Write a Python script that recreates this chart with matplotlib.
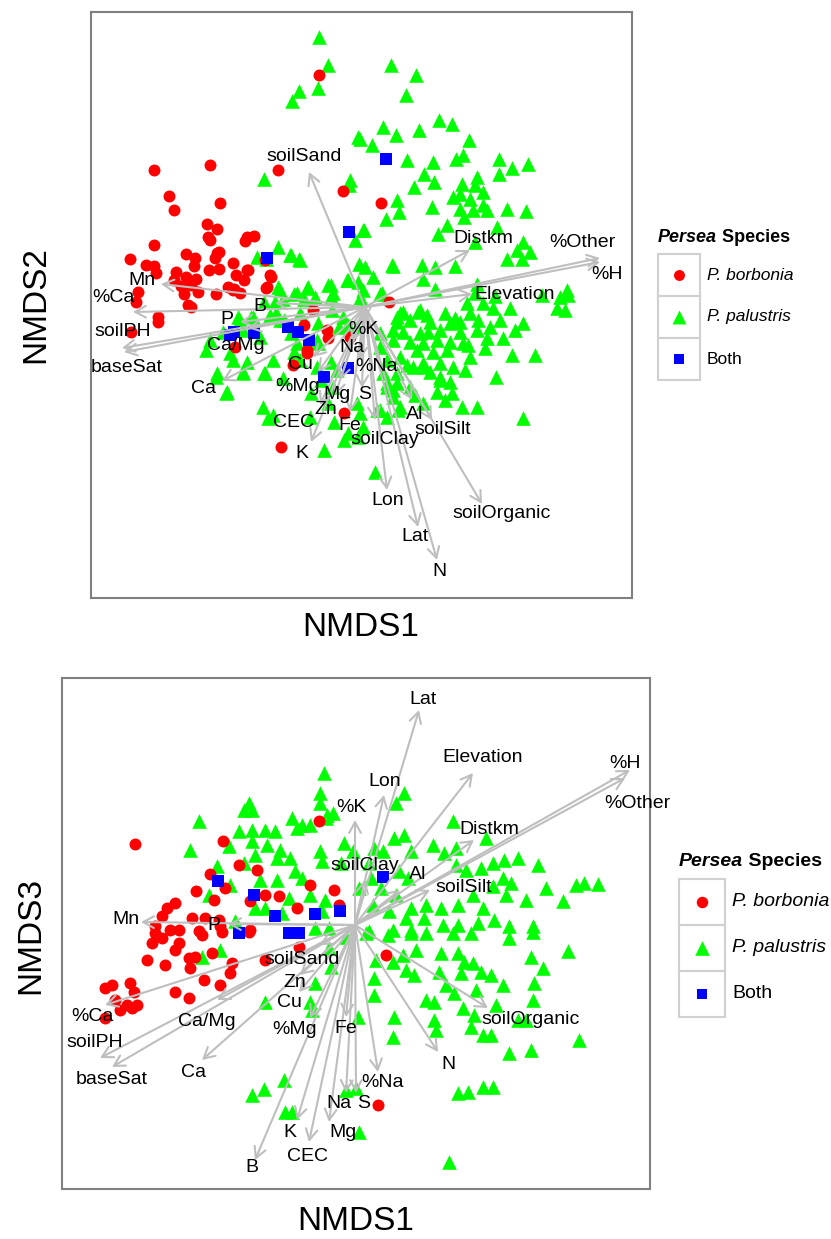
import numpy as np
import matplotlib.pyplot as plt
from matplotlib.patches import Rectangle, FancyArrowPatch

plt.rcParams['font.family'] = ['Liberation Sans', 'DejaVu Sans']

# ---- data (ordination scores, in plot units) ----
# panel 1: NMDS1 vs NMDS2
top_borbonia = [(319,75),(154,170),(210,165),(278,170),(343,191),(381,203),(169,196),(220,203),(174,210),
    (207,224),(217,229),(208,237),(154,245),(245,241),(254,236),(130,259),(186,254),(195,258),(219,252),
    (215,258),(146,265),(154,266),(156,273),(194,266),(219,269),(209,270),(248,270),(236,275),(244,280),
    (271,277),(176,272),(186,277),(196,279),(174,280),(181,286),(191,285),(228,287),(234,289),(266,288),
    (138,292),(184,294),(198,292),(216,294),(265,260),(188,305),(136,302),(158,317),(158,322),(131,332),
    (281,447),(235,347),(304,325),(327,330),(328,338),(307,353),(293,365),(344,413),(191,307),(247,237),
    (210,240),(217,253),(233,263),(247,270),(270,275),(267,287),(240,293),(233,290),(313,310),(350,337),
    (389,302),(307,350)]
top_palustris = [(319,37),(328,65),(299,91),(318,88),(292,101),(358,137),(264,179),(350,180),(349,185),
    (363,230),(355,240),(278,247),(257,257),(266,259),(291,255),(299,259),(359,264),(348,280),(331,285),
    (278,287),(308,287),(294,294),(331,297),(283,299),(304,299),(361,299),
    (391,65),(416,75),(406,95),(439,120),(452,124),(383,127),(419,130),(396,135),(469,140),(372,145),
    (360,139),(407,160),(433,162),(456,159),(463,155),(499,159),(512,168),(528,164),(424,174),(499,174),
    (434,182),(477,177),(462,184),(475,185),(414,187),(483,192),(453,197),(460,194),(470,199),(397,200),
    (432,207),(483,205),(487,210),(507,209),(526,211),(460,209),(473,210),(399,212),(464,217),(386,219),
    (447,225),(497,227),(364,230),(438,234),(475,242),(523,242),(517,250),(530,252),(507,259),(522,259),
    (393,266),(422,265),(435,267),(455,266),(365,267),(423,279),(477,284),(435,289),(567,290),(542,295),
    (560,297),(363,290),(380,294),
    (568,295),(557,308),(565,310),(403,312),(420,310),(467,303),(483,303),(493,308),(510,308),(397,322),
    (410,320),(430,322),(450,323),(460,322),(478,320),(500,320),(523,323),(403,332),(420,333),(440,330),
    (460,332),(477,330),(487,338),(503,338),(393,340),(410,342),(423,343),(437,340),(450,342),(463,343),
    (417,350),(433,352),(447,350),(470,357),(512,355),(535,355),(400,357),(423,363),(440,363),(453,367),
    (413,367),(496,377),(440,377),(450,382),(397,383),(410,387),(437,392),(452,393),(423,403),(462,407),
    (477,407),(523,418),(400,407),
    (400,313),(418,312),(375,472),(440,380),(407,365),(425,367),(387,383),(393,390),(380,410),(360,413),
    (398,410),(427,315),(445,313),(470,313),(490,327),(515,330),(428,332),(468,345),(485,348),(430,372),
    (465,370),(415,395),(445,400),(455,318),(475,293),(495,296),
    (264,302),(276,313),(251,317),(238,317),(223,332),(206,350),(233,360),(243,372),(264,373),(216,377),
    (226,393),(263,407),(268,418),(324,450),(291,333),(294,352),(318,343),(339,327),(348,325),(331,362),
    (321,380),(311,393),(328,403),(334,422),(348,433),(344,440),(358,437),(284,320),
    (290,255),(300,260),(392,265),(347,280),(328,285),(333,293),(307,288),(297,293),(280,290),(275,302),
    (360,298),(382,293),(373,277),(358,282),(315,297),(332,310),(343,317),(253,317),(240,320),(270,315),
    (280,320),(300,313),(318,323),(397,317),(393,330),(357,327),(380,333),(210,340),(243,330),(260,337),
    (297,343),(317,340),(380,347),(230,353),(247,362),(273,360),(300,360),(317,367),(337,370),(387,360),
    (383,373),(397,373),(217,373),(243,373),(265,373),(227,392),(283,378),(333,387),(387,387),(393,397),
    (357,403),(273,415),(310,417),(377,410),(387,417),(363,427)]
top_both = [(386,159),(349,232),(267,258),(234,332),(254,333),(288,327),(298,332),(309,340),(348,368),
    (324,377),(230,335)]

top_origin = (365, 307)
top_vec_names = ['soilSand','Mn','%Ca','soilPH','baseSat','B','P','Ca/Mg','Ca','Cu','%Mg','Mg','Zn','CEC',
    'K','Fe','S','%Na','Na','%K','Al','soilSilt','soilClay','Lon','Lat','N','soilOrganic','Distkm',
    '%Other','%H','Elevation']
top_vec_tips = [(309,172),(161,284),(133,312),(122,348),(124,352),(275,303),(240,322),(248,328),(222,381),
    (313,357),(318,372),(340,380),(335,395),(320,405),(311,442),(350,412),(362,388),(360,360),(352,342),
    (365,320),(412,400),(432,420),(375,420),(387,490),(418,527),(437,560),(482,504),(470,250),(600,258),
    (600,262),(472,294)]
top_vec_labels = [(304,157),(142,281),(113,298),(123,332),(127,368),(260,307),(227,320),(236,346),(204,389),
    (300,365),(298,387),(337,395),(326,410),(293,423),(302,454),(350,426),(365,395),(377,367),(352,348),
    (363,330),(415,415),(443,430),(385,440),(388,501),(415,537),(439,572),(502,514),(483,239),(582,243),
    (607,275),(515,295)]

# panel 2: NMDS1 vs NMDS3
bot_borbonia = [(135,844),(223,841),(319,821),(210,874),(239,865),(257,870),(225,888),(196,891),(214,900),
    (250,901),(265,895),(279,896),(297,908),(310,885),(175,903),(167,908),(162,916),(192,918),(205,918),
    (219,920),(155,926),(170,930),(179,930),(199,931),(220,926),(250,930),(334,890),(155,933),(162,938),
    (179,943),(202,935),(222,932),(249,932),(152,943),(175,950),(189,958),(195,957),(212,953),(232,963),
    (230,973),(147,960),(165,965),(190,968),(204,980),(220,985),(112,985),(105,988),(130,983),(134,992),
    (175,992),(189,998),(115,1000),(127,1005),(137,1005),(132,1008),(120,1010),(105,1018),(265,960),
    (299,947),(386,955),(378,1105),(339,905)]
bot_palustris = [(199,821),(190,850),(249,803),(244,810),(252,810),(229,846),(239,831),(252,830),(252,841),
    (265,830),(275,831),(267,845),(255,855),(244,863),(217,866),(292,818),(302,825),(310,825),(297,828),
    (324,773),(320,793),(320,803),(327,815),(280,850),(277,858),(290,858),(295,871),(302,878),(277,880),
    (260,880),(230,885),(209,895),(320,851),(322,861),(310,895),(289,898),(255,908),(265,908),(282,913),
    (325,900),(322,911),(235,921),(315,928),(329,928),
    (404,793),(396,803),(333,813),(326,818),(453,821),(404,835),(394,838),(433,845),(486,838),(344,843),
    (353,851),(374,848),(383,851),(411,851),(444,853),(456,848),(493,863),(504,860),(518,858),(538,865),
    (481,868),(466,870),(456,865),(341,863),(369,863),(399,871),(408,878),(503,878),(511,883),(546,888),
    (576,885),(584,883),(598,884),(563,901),(526,900),(506,895),(493,886),(473,895),(458,905),(483,908),
    (441,908),(426,905),(411,908),(396,895),(381,888),(371,878),(359,888),(373,905),(389,911),(406,918),
    (424,918),(443,925),(458,925),(478,923),(494,920),(509,926),(533,926),(411,930),(393,930),(369,931),
    (366,933),(388,935),(411,933),(426,933),(453,933),(471,933),(509,938),(533,932),(568,951),(531,957),
    (543,968),(441,953),(458,953),(464,962),(473,963),(416,950),(403,955),(376,960),(393,962),(406,970),
    (414,975),(439,972),(461,973),(481,972),(491,975),(503,985),(534,983),(374,978),(446,985),(454,993),
    (476,990),(374,995),(426,1000),(434,1002),(463,1008),(474,1015),(496,1005),(533,1000),(394,1017),
    (434,1020),(436,1030),(471,1027),(483,1035),(491,1035),(526,1020),(518,1020),(579,1040),(509,1053),
    (531,1050),(393,1037),(358,1017),(458,1093),(468,1092),(483,1087),(493,1087),(346,1090),(356,1088),
    (359,1132),(449,1162),(331,967),(329,948),(346,937),
    (220,950),(202,957),(265,1002),(315,983),(310,1002),(312,1010),(284,1080),(264,1089),(252,1095),
    (285,1112),(292,1112)]
bot_both = [(218,881),(254,895),(275,916),(315,914),(239,933),(289,933),(299,933),(383,877),(340,911)]

bot_origin = (355, 925)
bot_vec_names = ['Lat','Elevation','Lon','%K','%H','%Other','Distkm','soilClay','Al','soilSilt','Mn','P',
    'soilSand','Zn','Cu','%Mg','Fe','Ca/Mg','%Ca','soilPH','baseSat','Ca','K','CEC','B','Na','S','Mg',
    '%Na','N','soilOrganic']
bot_vec_tips = [(419,710),(473,773),(384,795),(355,820),(630,770),(625,778),(474,840),(365,880),(400,890),
    (430,890),(141,922),(228,924),(320,945),(300,975),(299,992),(310,1018),(346,1017),(217,1000),
    (105,1005),(100,1058),(112,1067),(202,1060),(297,1120),(309,1142),(255,1160),(346,1093),(356,1093),
    (329,1122),(378,1072),(438,1052),(488,1008)]
bot_vec_labels = [(423,700),(483,758),(385,782),(351,808),(625,763),(637,803),(489,829),(365,866),
    (418,875),(464,888),(126,920),(214,926),(302,960),(295,983),(289,1003),(295,1030),(346,1029),
    (207,1022),(92,1017),(95,1043),(112,1080),(194,1073),(290,1133),(307,1157),(252,1168),(339,1104),
    (364,1104),(343,1133),(383,1083),(448,1065),(531,1019)]

species = ['P. borbonia', 'P. palustris', 'Both']

W, H = 831, 1239
fig = plt.figure(figsize=(W / 100, H / 100), dpi=100)

RED, GREEN, BLUE, GREY = '#FF0000', '#00FF00', '#0000FF', '#BEBEBE'


def make_panel(box):
    l, t, r, b = box
    ax = fig.add_axes([l / W, 1 - b / H, (r - l) / W, (b - t) / H])
    ax.set_xlim(l, r)
    ax.set_ylim(b, t)
    ax.set_xticks([])
    ax.set_yticks([])
    for s in ax.spines.values():
        s.set_color('#808080')
        s.set_linewidth(1.5)
    return ax


def draw_panel(ax, red, green, blue, origin, names, tips, labels):
    g = np.array(green); r = np.array(red); b = np.array(blue)
    ax.scatter(g[:, 0], g[:, 1], marker='^', s=110, color=GREEN, lw=0, zorder=2)
    ax.scatter(r[:, 0], r[:, 1], marker='o', s=74, color=RED, lw=0, zorder=2)
    ax.scatter(b[:, 0], b[:, 1], marker='s', s=64, color=BLUE, lw=0, zorder=2)
    for name, tip, lab in zip(names, tips, labels):
        arr = FancyArrowPatch(origin, tip, arrowstyle='->,head_length=0.55,head_width=0.3',
                              mutation_scale=14, color=GREY, lw=1.5, shrinkA=0, shrinkB=0, zorder=3)
        ax.add_patch(arr)
        ax.text(lab[0], lab[1], name, ha='center', va='center', fontsize=14, zorder=4)


ax1 = make_panel((91, 12, 632, 598))
draw_panel(ax1, top_borbonia, top_palustris, top_both, top_origin, top_vec_names, top_vec_tips, top_vec_labels)
ax2 = make_panel((62, 678, 650, 1189))
draw_panel(ax2, bot_borbonia, bot_palustris, bot_both, bot_origin, bot_vec_names, bot_vec_tips, bot_vec_labels)

# overlay for axis titles and legends, in figure pixels
ov = fig.add_axes([0, 0, 1, 1], facecolor='none')
ov.set_xlim(0, W)
ov.set_ylim(H, 0)
ov.axis('off')

ov.text(361, 627, 'NMDS1', fontsize=24, ha='center', va='center')
ov.text(36, 305, 'NMDS2', fontsize=24, ha='center', va='center', rotation=90)
ov.text(356, 1221, 'NMDS1', fontsize=24, ha='center', va='center')
ov.text(31, 935, 'NMDS3', fontsize=24, ha='center', va='center', rotation=90)


def legend(x0, ytitle, ytop, box, fs_title, fs_lab, msize):
    t1 = ov.text(x0, ytitle, 'Persea', fontsize=fs_title, fontweight='bold', fontstyle='italic',
                 ha='left', va='center')
    ov.annotate(' Species', xy=(1, 0), xycoords=t1, fontsize=fs_title, fontweight='bold',
                ha='left', va='bottom')
    markers = [('o', RED, msize[0]), ('^', GREEN, msize[1]), ('s', BLUE, msize[2])]
    for i, (lab, (m, c, ms)) in enumerate(zip(species, markers)):
        y = ytop + i * box
        ov.add_patch(Rectangle((x0, y), box, box, fill=False, ec='#D0D0D0', lw=1.5))
        ov.scatter([x0 + box / 2], [y + box / 2], marker=m, s=ms, color=c, lw=0)
        ov.text(x0 + box + 7, y + box / 2, lab, fontsize=fs_lab, ha='left', va='center',
                fontstyle='normal' if lab == 'Both' else 'italic')


legend(658, 238, 254, 42, 13, 12.5, (62, 100, 58))
legend(679, 862, 879, 46, 14, 14, (68, 110, 62))

fig.savefig('out.png', dpi=100)
